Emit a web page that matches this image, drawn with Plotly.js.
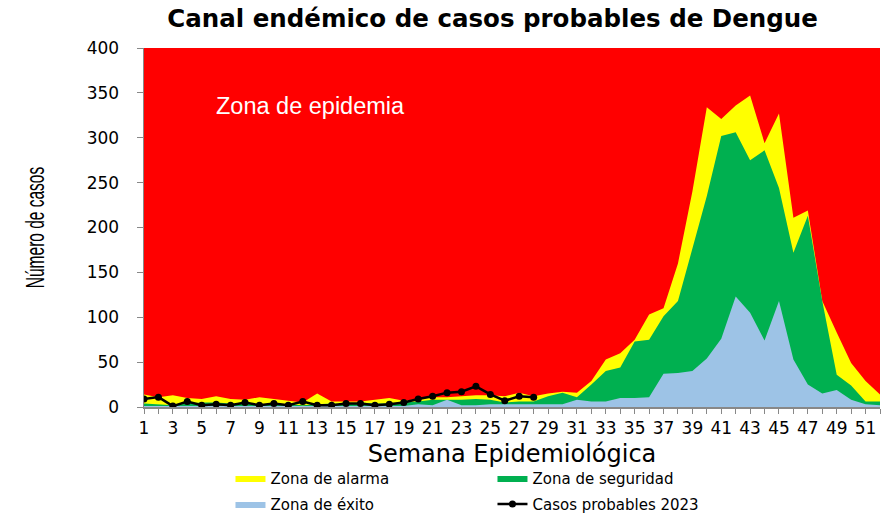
<!DOCTYPE html>
<html>
<head>
<meta charset="utf-8">
<script src="https://cdn.plot.ly/plotly-3.0.1.min.js"></script>
<style>html,body{margin:0;padding:0;background:#fff;}#chart{width:894px;height:516px;}</style>
</head>
<body>
<div id="chart"></div>
<script>
// Semana epidemiológica
const weeks = [1,2,3,4,5,6,7,8,9,10,11,12,13,14,15,16,17,18,19,20,21,22,23,24,25,26,27,28,29,30,31,32,33,34,35,36,37,38,39,40,41,42,43,44,45,46,47,48,49,50,51,52];
// Upper limit of each zone (cases)
const zonaEpidemia = [400,400,400,400,400,400,400,400,400,400,400,400,400,400,400,400,400,400,400,400,400,400,400,400,400,400,400,400,400,400,400,400,400,400,400,400,400,400,400,400,400,400,400,400,400,400,400,400,400,400,400,400];
const zonaAlarma = [14,11,13,10,9,12,9,8,11,9,7,5,15,6,6,6,8,10,7,9,11,11,12,13,13,12,16,12,15,17,16,29,53,60,75,103,110,160,240,334,321,336,347,294,327,211,219,118,83,49,29,14];
const zonaSeguridad = [4,3,2,4,5,5,4,4,3,4,3,2,3,4,3,5,4,4,5,6,8,8,8,9,8,5,6,6,12,16,11,25,40,44,73,75,101,118,175,235,302,306,275,286,244,172,213,118,36,24,6,6];
const zonaExito = [1,1,1,1,1,1,1,1,1,1,1,1,1,1,1,1,1,1,1,3,2,8,2,2,3,3,3,3,3,3,8,6,6,10,10,11,37,38,40,54,76,123,105,74,118,53,25,15,19,8,3,2];
const casos2023 = [9,11,1,6,2,3,2,5,2,4,2,6,2,2,4,4,2,3,5,9,12,16,17,23,14,7,12,11,null,null,null,null,null,null,null,null,null,null,null,null,null,null,null,null,null,null,null,null,null,null,null,null];
const tickText = weeks.map(w => (w % 2 === 1 ? String(w) : ''));

const traces = [
  {x: weeks, y: zonaEpidemia, type: 'scatter', mode: 'lines', fill: 'tozeroy',
   fillcolor: '#FF0000', line: {width: 0, color: '#FF0000'}, name: 'Zona de epidemia', showlegend: false, hoverinfo: 'skip'},
  {x: weeks, y: zonaAlarma, type: 'scatter', mode: 'lines', fill: 'tozeroy',
   fillcolor: '#FFFF00', line: {width: 0, color: '#FFFF00'}, name: 'Zona de alarma', legend: 'legend'},
  {x: weeks, y: zonaSeguridad, type: 'scatter', mode: 'lines', fill: 'tozeroy',
   fillcolor: '#00B050', line: {width: 0, color: '#00B050'}, name: 'Zona de seguridad', legend: 'legend'},
  {x: weeks, y: zonaExito, type: 'scatter', mode: 'lines', fill: 'tozeroy',
   fillcolor: '#9DC3E6', line: {width: 0, color: '#9DC3E6'}, name: 'Zona de éxito', legend: 'legend2'},
  {x: weeks, y: casos2023, type: 'scatter', mode: 'lines+markers',
   line: {width: 2.5, color: '#000000'}, marker: {size: 7, color: '#000000'},
   name: 'Casos probables 2023', legend: 'legend2'}
];

const legendFont = {family: 'DejaVu Sans', size: 15, color: '#000000'};
const layout = {
  width: 894, height: 516,
  paper_bgcolor: '#FFFFFF', plot_bgcolor: '#FFFFFF',
  margin: {l: 144, r: 14, t: 47.5, b: 108.5, autoexpand: false},
  title: {text: 'Canal endémico de casos probables de Dengue',
          font: {family: 'DejaVu Sans', size: 24.5, color: '#000000', weight: 'bold'},
          xref: 'container', x: 0.551, xanchor: 'center', yref: 'container', y: 0.965, yanchor: 'middle'},
  xaxis: {range: [1, 52], tickmode: 'array', tickvals: weeks, ticktext: tickText,
          ticks: 'outside', ticklen: 5, tickcolor: '#888888', showline: true, linecolor: '#888888', linewidth: 1.5,
          showgrid: false, zeroline: false,
          tickfont: {family: 'DejaVu Sans', size: 17, color: '#000000'},
          title: {text: 'Semana Epidemiológica', font: {family: 'DejaVu Sans', size: 24, color: '#000000'}, standoff: 8}},
  yaxis: {range: [0, 400], tickmode: 'linear', tick0: 0, dtick: 50,
          ticks: 'outside', ticklen: 6, tickcolor: '#888888', showline: true, linecolor: '#888888', linewidth: 1.5,
          showgrid: false, zeroline: false, ticklabelstandoff: 14,
          tickfont: {family: 'DejaVu Sans', size: 17, color: '#000000'},
          title: {text: 'Número de casos', font: {family: 'Liberation Sans, Arial, sans-serif', size: 15.5, color: '#000000'}, standoff: 40}},
  legend: {orientation: 'h', x: 0.1175, xanchor: 'left', y: -0.1986, yanchor: 'middle',
           entrywidth: 217, entrywidthmode: 'pixels', traceorder: 'normal',
           font: legendFont, bgcolor: 'rgba(0,0,0,0)'},
  legend2: {orientation: 'h', x: 0.1175, xanchor: 'left', y: -0.2708, yanchor: 'middle',
           entrywidth: 217, entrywidthmode: 'pixels', traceorder: 'normal',
           font: legendFont, bgcolor: 'rgba(0,0,0,0)'},
  annotations: [{text: 'Zona de epidemia', xref: 'paper', yref: 'paper', x: 0.0945, y: 0.8375,
                 xanchor: 'left', yanchor: 'middle', showarrow: false,
                 font: {family: 'Liberation Sans, Arial, sans-serif', size: 23.5, color: '#FFFFFF'}}],
  showlegend: true
};

Plotly.newPlot('chart', traces, layout, {displayModeBar: false, staticPlot: true}).then(gd => {
  // Condensed look of the rotated y-axis title (stretched across the screen x direction)
  const t = gd.querySelector('.g-ytitle text');
  if (!t) return;
  const svgRect = gd.querySelector('svg.main-svg').getBoundingClientRect();
  const r = t.getBoundingClientRect();
  const cx = r.left - svgRect.left + r.width / 2;
  const tr = t.getAttribute('transform') || '';
  t.setAttribute('transform', 'translate(35,0) scale(1.65,1) translate(' + (-cx) + ',0) ' + tr);
});
</script>
</body>
</html>
